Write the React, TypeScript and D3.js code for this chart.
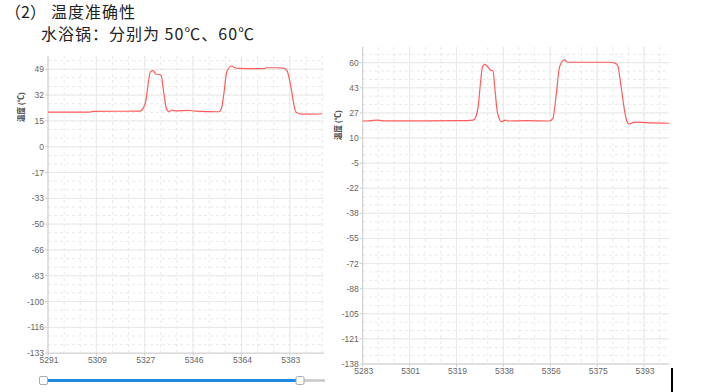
import React from "react";
import * as d3 from "d3";

// ---------- data ----------
const leftXTicks = ["5291", "5309", "5327", "5346", "5364", "5383"];
const leftYTicks = ["-133", "-116", "-100", "-83", "-66", "-50", "-33", "-17", "0", "15", "32", "49"];
const leftSampleX = [
  5291, 5307, 5308, 5326, 5327, 5328, 5330, 5331, 5332, 5334, 5335, 5336, 5337, 5338, 5339,
  5340, 5344, 5347, 5356, 5357, 5358, 5359, 5361, 5362, 5364, 5369, 5373, 5374, 5378, 5381,
  5382, 5383.5, 5384.7, 5385.4, 5387.3, 5390.4, 5395.4,
];
const leftTemp = [
  21.6, 21.6, 22.0, 22.2, 23.5, 27.2, 47.5, 48.1, 46.0, 45.3, 34.6, 24.0, 21.8, 22.9, 22.5,
  22.4, 22.7, 22.2, 21.8, 24.0, 34.6, 47.5, 51.1, 50.0, 49.6, 49.4, 49.4, 50.0, 50.0, 49.6,
  47.9, 36.8, 25.0, 21.4, 20.3, 20.3, 20.5,
];

const rightXTicks = ["5283", "5301", "5319", "5338", "5356", "5375", "5393"];
const rightYTicks = ["-138", "-121", "-105", "-88", "-72", "-55", "-38", "-22", "-5", "10", "27", "43", "60"];
const rightSampleX = [
  5283, 5286, 5288.5, 5291, 5321.1, 5326.3, 5327.4, 5328.3, 5329.2, 5330.0, 5330.9, 5332.2,
  5333.1, 5334.1, 5334.8, 5335.7, 5336.8, 5337.4, 5339.0, 5340.0, 5347.2, 5356.3, 5357.6,
  5359.0, 5360.0, 5360.9, 5362.2, 5363.5, 5368.1, 5379.8, 5382.2, 5383.1, 5384.4, 5385.7,
  5386.6, 5387.6, 5388.9, 5390.2, 5394.2, 5403.3,
];
const rightTemp = [
  21.7, 21.8, 22.3, 21.8, 21.9, 22.3, 24.5, 31.1, 46.5, 57.4, 58.9, 57.0,
  55.2, 54.7, 44.2, 28.9, 22.3, 21.2, 22.3, 21.7, 21.9, 21.7, 23.4,
  39.9, 55.2, 60.0, 61.8, 60.3, 60.3, 60.3, 59.6, 57.8, 44.2, 28.9,
  21.9, 19.7, 20.6, 21.0, 20.6, 20.2,
];

// ---------- chart ----------
type ChartProps = {
  xRange: [number, number];
  xDomain: [number, number];
  xStep: number;
  xTicks: string[];
  yRange: [number, number]; // pixel of first and last tick
  yTicks: string[];
  plotTop: number;
  xs: number[];
  ys: number[];
  labelX: number;
  labelY: number;
};

const GRID = "#e9e9e9";
const AXIS = "#cfcfcf";
const TICKTXT = "#666";
const FONT = "'Liberation Sans', Arial, sans-serif";

function Chart(p: ChartProps) {
  const yMin = +p.yTicks[0];
  const yMax = +p.yTicks[p.yTicks.length - 1];
  const x = d3.scaleLinear().domain(p.xDomain).range(p.xRange);
  const y = d3.scaleLinear().domain([yMin, yMax]).range(p.yRange);
  const nY = p.yTicks.length - 1;
  const yStep = (yMax - yMin) / nY;
  const yTickVals = p.yTicks.map((_, i) => yMin + i * yStep);
  const xTickVals = p.xTicks.map((_, i) => p.xDomain[0] + i * p.xStep);
  const bottom = y(yMin);
  const [x0, x1] = p.xRange;

  // minor grid (thirds)
  const yMinor: number[] = [];
  for (let v = yMin; ; v += yStep / 3) {
    const py = y(v);
    if (py < p.plotTop - 0.5) break;
    yMinor.push(py);
  }
  const xMinor: number[] = [];
  for (let v = p.xDomain[0]; ; v += p.xStep / 3) {
    const px = x(v);
    if (px > x1 + 0.5) break;
    xMinor.push(px);
  }

  const line = d3
    .line<number>()
    .x((_, i) => x(p.xs[i]))
    .y((d) => y(d))
    .curve(d3.curveMonotoneX);

  return (
    <g>
      {yMinor.map((py, i) => (
        <line key={"ym" + i} x1={x0} x2={x1} y1={py} y2={py} stroke={GRID} strokeDasharray="3,3" />
      ))}
      {xMinor.map((px, i) => (
        <line key={"xm" + i} x1={px} x2={px} y1={p.plotTop} y2={bottom} stroke={GRID} strokeDasharray="3,3" />
      ))}
      {yTickVals.map((v, i) => (
        <line key={"yg" + i} x1={x0} x2={x1} y1={y(v)} y2={y(v)} stroke={GRID} />
      ))}
      {xTickVals.map((v, i) => (
        <line key={"xg" + i} x1={x(v)} x2={x(v)} y1={p.plotTop} y2={bottom} stroke={GRID} />
      ))}
      {/* axes */}
      <line x1={x0} x2={x0} y1={p.plotTop} y2={bottom} stroke={AXIS} />
      <line x1={x0} x2={x1} y1={bottom} y2={bottom} stroke={AXIS} />
      {yTickVals.map((v, i) => (
        <g key={"yt" + i}>
          <line x1={x0 - 3} x2={x0} y1={y(v)} y2={y(v)} stroke={AXIS} />
          <text x={x0 - 4} y={y(v) + 3} textAnchor="end" fontSize={8.5} fill={TICKTXT} fontFamily={FONT}>
            {p.yTicks[i]}
          </text>
        </g>
      ))}
      {xTickVals.map((v, i) => (
        <g key={"xt" + i}>
          <line x1={x(v)} x2={x(v)} y1={bottom} y2={bottom + 3} stroke={AXIS} />
          <text x={x(v) + 1} y={bottom + 10} textAnchor="middle" fontSize={8.5} fill={TICKTXT} fontFamily={FONT}>
            {p.xTicks[i]}
          </text>
        </g>
      ))}
      <text
        transform={`translate(${p.labelX},${p.labelY}) rotate(-90)`}
        textAnchor="middle"
        dominantBaseline="central"
        fontSize={7.5}
        fontWeight="bold"
        fill="#444"
        fontFamily="'Noto Sans CJK SC', sans-serif"
      >
        温度 (℃)
      </text>
      <path d={line(p.ys) || ""} fill="none" stroke="#ff5c5c" strokeWidth={1.2} />
    </g>
  );
}

export default function App() {
  return (
    <svg
      width={728}
      height={392}
      style={{ position: "absolute", left: 0, top: 0, background: "#fff" }}
    >
      <rect width={728} height={392} fill="#fff" />
      <g fontFamily="'Noto Sans CJK SC', sans-serif" fill="#222" fontSize={16}>
        <text x={5} y={18}>（2）</text>
        <text x={51} y={18} letterSpacing={1}>温度准确性</text>
        <text x={41} y={40} letterSpacing={1}>水浴锅：分别为 50℃、60℃</text>
      </g>
      <Chart
        xRange={[48, 324]}
        xDomain={[5291, 5396]}
        xStep={18.4}
        xTicks={leftXTicks}
        yRange={[353.2, 69.3]}
        yTicks={leftYTicks}
        plotTop={56}
        xs={leftSampleX}
        ys={leftTemp}
        labelX={20}
        labelY={107}
      />
      <Chart
        xRange={[362.7, 669.3]}
        xDomain={[5283, 5403.3]}
        xStep={18.4}
        xTicks={rightXTicks}
        yRange={[364, 62.7]}
        yTicks={rightYTicks}
        plotTop={47}
        xs={rightSampleX}
        ys={rightTemp}
        labelX={337}
        labelY={125}
      />
      {/* range slider under left chart */}
      <line x1={43} x2={325} y1={380.5} y2={380.5} stroke="#c8c8c8" strokeWidth={2.5} />
      <line x1={43} x2={300} y1={380.5} y2={380.5} stroke="#1e88e5" strokeWidth={3} />
      <rect x={39.5} y={376.5} width={8} height={8} rx={1.5} fill="#fff" stroke="#aaa" />
      <rect x={296} y={376.5} width={8} height={8} rx={1.5} fill="#fff" stroke="#aaa" />
      {/* text cursor mark */}
      <rect x={671} y={368} width={2} height={24} fill="#000" />
    </svg>
  );
}
